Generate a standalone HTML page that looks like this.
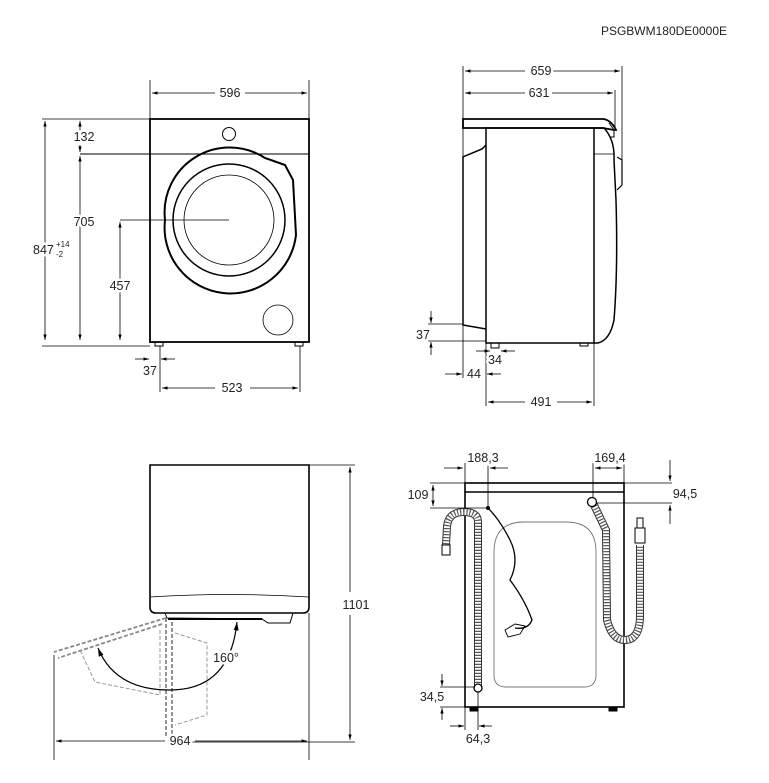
<!DOCTYPE html>
<html><head><meta charset="utf-8"><style>
html,body{margin:0;padding:0;background:#fff;}
svg{display:block;font-family:"Liberation Sans",Arial,sans-serif;}
.t text{paint-order:stroke;stroke:#fff;stroke-width:5px;stroke-linejoin:round;}
</style></head><body>
<svg width="769" height="783" viewBox="0 0 769 783" xmlns="http://www.w3.org/2000/svg">
<defs>
<marker id="a" viewBox="0 0 10 10" refX="10" refY="5" markerWidth="7" markerHeight="7" orient="auto-start-reverse"><path d="M0,2 L10,5 L0,8 z" fill="#000"/></marker>
</defs>
<g fill="#222" font-size="12">
<text x="727" y="35" text-anchor="end">PSGBWM180DE0000E</text>
</g>

<!-- FRONT VIEW -->
<g stroke="#000" fill="none">
<rect x="150" y="119" width="159" height="223" stroke-width="1.8"/>
<line x1="80" y1="154" x2="309" y2="154" stroke-width="1"/>
<circle cx="229" cy="134" r="6.5" stroke-width="1"/>
<path d="M165,220 A65,65 0 1,0 296,235 L293,180 L285,165 L265,158 A65,65 0 0,0 165,220Z" stroke-width="2"/>
<circle cx="229" cy="220" r="56" stroke-width="1.5"/>
<circle cx="229" cy="220" r="45" stroke-width="0.8"/>
<circle cx="278" cy="320" r="15" stroke-width="0.8"/>
<rect x="155" y="342" width="8" height="4" stroke-width="1"/>
<rect x="295" y="342" width="8" height="4" stroke-width="1"/>
<g stroke-width="0.8">
<line x1="150" y1="80" x2="150" y2="119"/><line x1="309" y1="80" x2="309" y2="119"/>
<line x1="152" y1="93" x2="215" y2="93" marker-start="url(#a)"/><line x1="245" y1="93" x2="307" y2="93" marker-end="url(#a)"/>
<line x1="42" y1="119" x2="150" y2="119"/>
<line x1="45" y1="121" x2="45" y2="340" marker-start="url(#a)" marker-end="url(#a)"/>
<line x1="42" y1="346" x2="150" y2="346"/>
<line x1="80" y1="121" x2="80" y2="130" marker-start="url(#a)"/><line x1="80" y1="145" x2="80" y2="152" marker-end="url(#a)"/>
<line x1="80" y1="156" x2="80" y2="340" marker-start="url(#a)" marker-end="url(#a)"/>
<line x1="120" y1="222" x2="120" y2="340" marker-start="url(#a)" marker-end="url(#a)"/>
<line x1="120" y1="220" x2="229" y2="220"/>
<line x1="160" y1="346" x2="160" y2="392"/><line x1="300" y1="346" x2="300" y2="392"/>
<line x1="135" y1="359" x2="149" y2="359" marker-end="url(#a)"/><line x1="175" y1="359" x2="161" y2="359" marker-end="url(#a)"/>
<line x1="162" y1="388" x2="215" y2="388" marker-start="url(#a)"/><line x1="250" y1="388" x2="298" y2="388" marker-end="url(#a)"/>
</g>
</g>
<g class="t" fill="#222" font-size="12.5" text-anchor="middle">
<text x="230" y="97">596</text>
<text x="84" y="141">132</text>
<text x="84" y="226">705</text>
<text x="120" y="290">457</text>
<text x="150" y="375">37</text>
<text x="232" y="392">523</text>
<text x="33" y="254" text-anchor="start">847</text>
<text x="56" y="247" font-size="8" text-anchor="start">+14</text>
<text x="56" y="257" font-size="8" text-anchor="start">-2</text>
</g>

<!-- SIDE VIEW -->
<g stroke="#000" fill="none">
<path d="M463,119 L604,119 Q612,121 616,130 L614,130 L603,128 L463,128 Z" stroke-width="1.8"/>
<rect x="486" y="128" width="108" height="215" stroke-width="1.5"/>
<path d="M486,145 L482,149 L465,156 L463,157 L463,325 L486,329" stroke-width="1.5"/>
<path d="M594,128 L604,128 Q615,140 614,160 L616,200 Q618,270 614,320 Q610,340 598,343 L594,343" stroke-width="1.5"/>
<path d="M594,154 L614,154" stroke-width="0.8"/>
<path d="M617,157 L622,160 L622,185 L617,190" stroke-width="1.2"/>
<path d="M609,123 L614,130 L614,137 L610,137" stroke-width="1"/>
<rect x="491" y="343" width="8" height="5" stroke-width="1"/>
<rect x="580" y="343" width="8" height="3" stroke-width="1"/>
<g stroke-width="0.8">
<line x1="463" y1="66" x2="463" y2="378"/>
<line x1="622" y1="66" x2="622" y2="160"/><line x1="615" y1="90" x2="615" y2="128"/>
<line x1="465" y1="71" x2="525" y2="71" marker-start="url(#a)"/><line x1="552" y1="71" x2="620" y2="71" marker-end="url(#a)"/>
<line x1="465" y1="93" x2="525" y2="93" marker-start="url(#a)"/><line x1="552" y1="93" x2="613" y2="93" marker-end="url(#a)"/>
<line x1="428" y1="324" x2="463" y2="324"/><line x1="428" y1="341" x2="486" y2="341"/>
<line x1="431" y1="311" x2="431" y2="323" marker-end="url(#a)"/><line x1="431" y1="355" x2="431" y2="342" marker-end="url(#a)"/>
<line x1="476" y1="351" x2="490" y2="351" marker-end="url(#a)"/><line x1="515" y1="351" x2="501" y2="351" marker-end="url(#a)"/>
<line x1="445" y1="374" x2="462" y2="374" marker-end="url(#a)"/><line x1="501" y1="374" x2="487" y2="374" marker-end="url(#a)"/>
<line x1="486" y1="343" x2="486" y2="406"/><line x1="594" y1="343" x2="594" y2="406"/>
<line x1="488" y1="402" x2="525" y2="402" marker-start="url(#a)"/><line x1="557" y1="402" x2="592" y2="402" marker-end="url(#a)"/>
</g>
</g>
<g class="t" fill="#222" font-size="12.5" text-anchor="middle">
<text x="541" y="75">659</text>
<text x="539" y="97">631</text>
<text x="423" y="339">37</text>
<text x="495" y="364">34</text>
<text x="474" y="378">44</text>
<text x="541" y="406">491</text>
</g>

<!-- TOP VIEW -->
<g stroke="#000" fill="none">
<path d="M150,465 L309,465 L309,607 Q309,613 303,613 L156,613 Q150,613 150,607 Z" stroke-width="1.6"/>
<path d="M150,597 Q230,592 309,597" stroke-width="0.8"/>
<path d="M165,613 L167,618 L262,619 L268,623 L290,623 L293,613" stroke-width="1"/>
<line x1="168" y1="619" x2="262" y2="619" stroke-width="2"/>
<g stroke-width="0.8">
<line x1="309" y1="465" x2="355" y2="465"/>
<line x1="350" y1="467" x2="350" y2="592" marker-start="url(#a)"/><line x1="350" y1="615" x2="350" y2="740" marker-end="url(#a)"/>
<line x1="170" y1="742" x2="355" y2="742"/>
<line x1="309" y1="613" x2="309" y2="760"/>
<line x1="54" y1="655" x2="54" y2="760"/>
<line x1="56" y1="741" x2="165" y2="741" marker-start="url(#a)"/><line x1="195" y1="741" x2="307" y2="741" marker-end="url(#a)"/>
</g>
<g stroke="#888" stroke-width="1.8" stroke-dasharray="4,2">
<path d="M166,618 L54,652"/>
<path d="M162,624 L58,658"/>
<path d="M166,618 L166,738"/><path d="M172,622 L172,740"/>
</g>
<g stroke="#999" stroke-width="1" stroke-dasharray="4,2">
<path d="M160,630 L160,695 L95,682 L80,650"/>
<path d="M175,633 L207,643 L207,715 L175,725"/>
</g>
<path d="M237,622 Q230,690 170,690 Q115,690 98,648" stroke-width="1.2" marker-start="url(#a)" marker-end="url(#a)"/>
</g>
<g class="t" fill="#222" font-size="12.5" text-anchor="middle">
<text x="356" y="609">1101</text>
<text x="226" y="662">160°</text>
<text x="180" y="745">964</text>
</g>

<!-- REAR VIEW -->
<g stroke="#000" fill="none">
<rect x="465" y="483" width="159" height="224" stroke-width="1.6"/>
<line x1="465" y1="492" x2="624" y2="492" stroke-width="1.6"/>
<path d="M524,522 L566,522 Q596,522 596,552 L596,675 Q596,687 584,687 L506,687 Q494,687 494,675 L494,552 Q494,522 524,522Z" stroke="#777" stroke-width="0.9"/>
<rect x="470" y="707" width="8" height="4" fill="#000"/><rect x="609" y="707" width="8" height="4" fill="#000"/>
<g id="h1">
<path d="M478,686 L478,522 Q478,512 464,512 Q448,512 447,527 L446,545" stroke="#333" stroke-width="8"/>
<path d="M478,686 L478,522 Q478,512 464,512 Q448,512 447,527 L446,545" stroke="#fff" stroke-width="6"/>
<path d="M478,686 L478,522 Q478,512 464,512 Q448,512 447,527 L446,545" stroke="#555" stroke-width="6" stroke-dasharray="1.2,1.8"/>
</g>
<rect x="442" y="545" width="8" height="10" stroke-width="1" fill="#fff"/>
<circle cx="478" cy="688" r="4" stroke-width="1.3" fill="#fff"/>
<path d="M593,503 L606,530 L607,620 Q612,640 625,640 Q640,640 640,615 L640,545" stroke="#333" stroke-width="8"/>
<path d="M593,503 L606,530 L607,620 Q612,640 625,640 Q640,640 640,615 L640,545" stroke="#fff" stroke-width="6"/>
<path d="M593,503 L606,530 L607,620 Q612,640 625,640 Q640,640 640,615 L640,545" stroke="#555" stroke-width="6" stroke-dasharray="1.2,1.8"/>
<circle cx="592" cy="502" r="4.5" stroke-width="1.3" fill="#fff"/>
<rect x="635" y="528" width="10" height="15" stroke-width="1" fill="#fff"/><rect x="637" y="518" width="6" height="10" stroke-width="1" fill="#fff"/>
<path d="M488,508 Q500,520 510,540 Q520,560 510,580 Q525,600 532,620 Q528,630 515,628" stroke-width="1.3"/>
<path d="M505,630 L515,624 L525,626 L520,634 L508,637 Z" stroke-width="0.9"/>
<circle cx="488" cy="508" r="1.5" fill="#000"/>
<g stroke-width="0.8">
<line x1="465" y1="463" x2="465" y2="483"/><line x1="488" y1="463" x2="488" y2="508"/>
<line x1="444" y1="468" x2="463" y2="468" marker-end="url(#a)"/><line x1="508" y1="468" x2="490" y2="468" marker-end="url(#a)"/>
<line x1="593" y1="463" x2="593" y2="498"/><line x1="624" y1="463" x2="624" y2="483"/>
<line x1="595" y1="468" x2="622" y2="468" marker-start="url(#a)" marker-end="url(#a)"/>
<line x1="430" y1="483" x2="465" y2="483"/><line x1="430" y1="508" x2="488" y2="508"/>
<line x1="433" y1="485" x2="433" y2="506" marker-start="url(#a)" marker-end="url(#a)"/>
<line x1="624" y1="483" x2="672" y2="483"/><line x1="596" y1="503" x2="672" y2="503"/>
<line x1="670" y1="460" x2="670" y2="481" marker-end="url(#a)"/><line x1="670" y1="524" x2="670" y2="505" marker-end="url(#a)"/>
<line x1="440" y1="687" x2="474" y2="687"/><line x1="440" y1="707" x2="465" y2="707"/>
<line x1="442" y1="674" x2="442" y2="686" marker-end="url(#a)"/><line x1="442" y1="720" x2="442" y2="708" marker-end="url(#a)"/>
<line x1="465" y1="707" x2="465" y2="730"/><line x1="478" y1="692" x2="478" y2="730"/>
<line x1="450" y1="726" x2="464" y2="726" marker-end="url(#a)"/><line x1="492" y1="726" x2="479" y2="726" marker-end="url(#a)"/>
</g>
</g>
<g class="t" fill="#222" font-size="12.5" text-anchor="middle">
<text x="483" y="462">188,3</text>
<text x="610" y="462">169,4</text>
<text x="418" y="499">109</text>
<text x="685" y="498">94,5</text>
<text x="432" y="701">34,5</text>
<text x="478" y="743">64,3</text>
</g>
</svg>
</body></html>
